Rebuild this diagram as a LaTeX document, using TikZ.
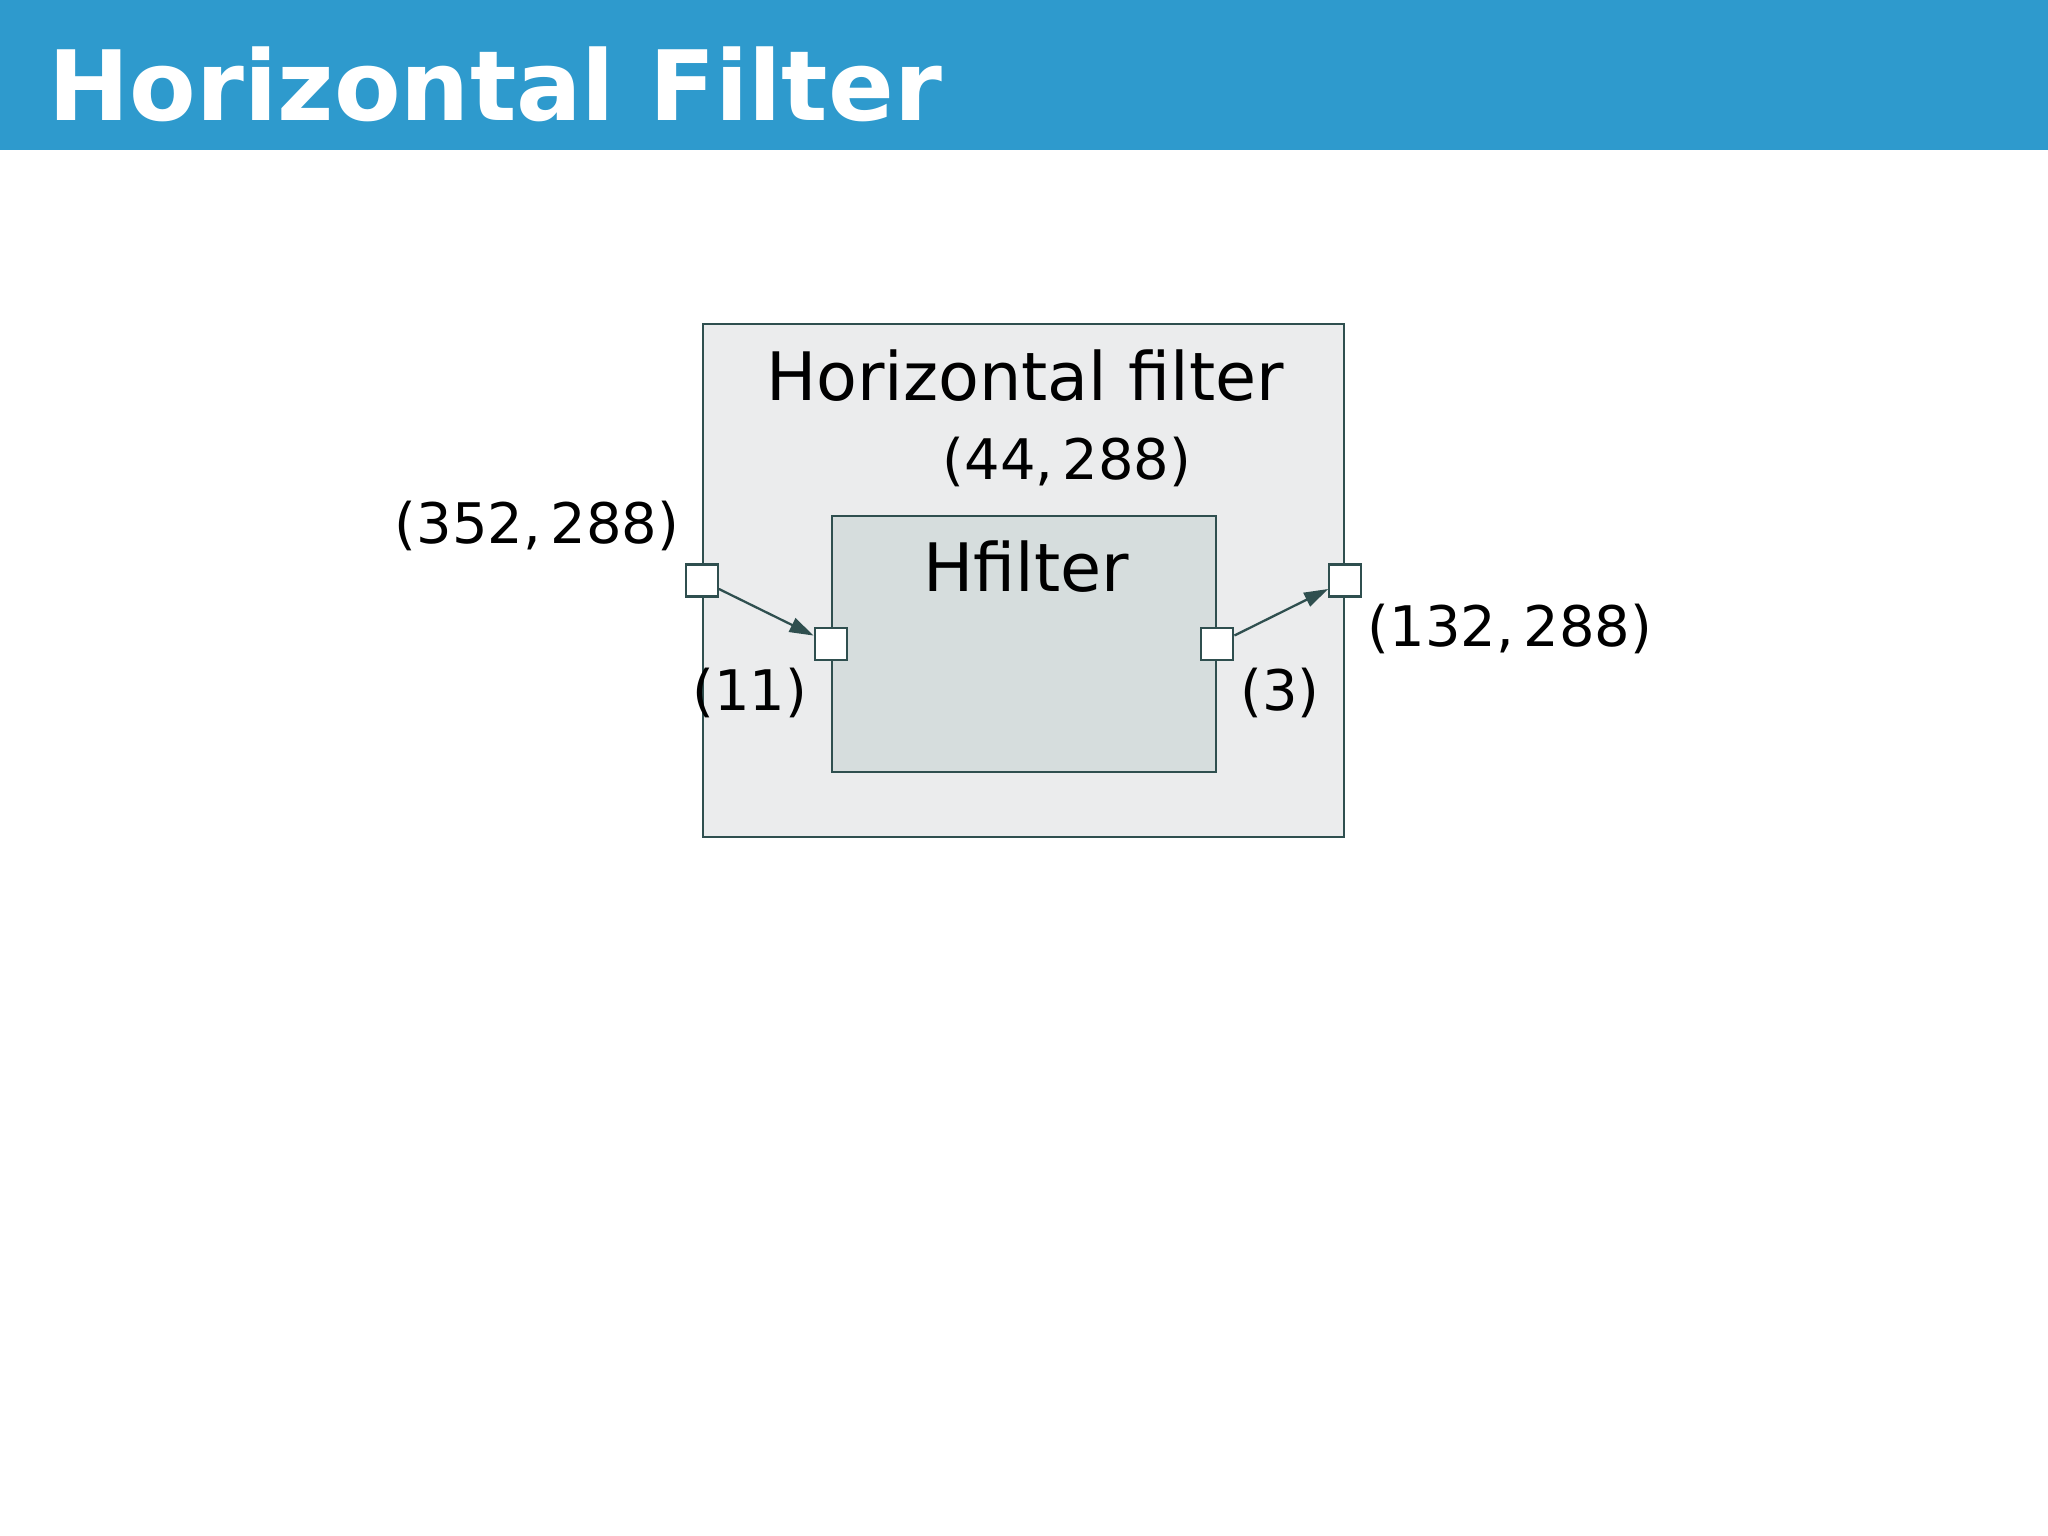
\documentclass[tikz,border=0pt]{standalone}
\usepackage{fontspec}
\setmainfont{DejaVu Sans}
\usepackage{xcolor}
\usepackage{tikz}
\usetikzlibrary{arrows.meta}
\definecolor{banner}{HTML}{2E9ACD}
\definecolor{slate}{HTML}{2F4F4F}
\definecolor{outerfill}{HTML}{EBECED}
\definecolor{innerfill}{HTML}{D6DDDD}
\tikzset{
  headline/.style={text=white, font=\fontsize{27.6}{33}\selectfont\bfseries, anchor=base west, inner sep=0pt},
  outerbox/.style={draw=slate, fill=outerfill, line width=0.65pt, inner sep=0pt, minimum width=6.41cm, minimum height=5.13cm},
  innerbox/.style={draw=slate, fill=innerfill, line width=0.65pt, inner sep=0pt, minimum width=3.84cm, minimum height=2.56cm},
  port/.style={draw=slate, fill=white, line width=0.65pt, inner sep=0pt, minimum size=0.32cm},
  flow/.style={-{Triangle[length=0.24cm, width=0.15cm]}, line width=0.65pt, draw=slate},
  boxlab/.style={font=\fontsize{19}{23}\selectfont, anchor=base, inner sep=0pt},
  dimlab/.style={font=\fontsize{15.9}{19}\selectfont, anchor=base, inner sep=0pt}
}
\begin{document}
\begin{tikzpicture}[x=0.01cm, y=-0.01cm]
  \useasboundingbox (0,0) rectangle (2048,1536);

  % banner
  \fill[banner] (0,0) rectangle (2048,150);
  \node[headline] (title) at (48,120) {Horizontal Filter};

  % blocks
  \node[outerbox] (hfilter) at (1023.5,580.5) {};
  \node[innerbox] (hf) at (1024,644) {};
  \node[boxlab] (hfilterlab) at (1025,400) {Horizontal filter};
  \node[boxlab] (hflab) at (1026,591) {Hfilter};

  % ports
  \node[port] (inP) at (hfilter.west) {};
  \node[port] (outP) at (hfilter.east) {};
  \node[port] (hfin) at (hf.west) {};
  \node[port] (hfout) at (hf.east) {};

  % flows
  \draw[flow] (inP) -- (hfin);
  \draw[flow] (hfout) -- (outP);

  % sizes
  \node[dimlab] (sizeblk) at (1067,479) {(44,\,288)};
  \node[dimlab] (sizein) at (537,543) {(352,\,288)};
  \node[dimlab] (sizeout) at (1510,646) {(132,\,288)};
  \node[dimlab] (sizehfin) at (750,710) {(11)};
  \node[dimlab] (sizehfout) at (1280,710) {(3)};
\end{tikzpicture}
\end{document}
